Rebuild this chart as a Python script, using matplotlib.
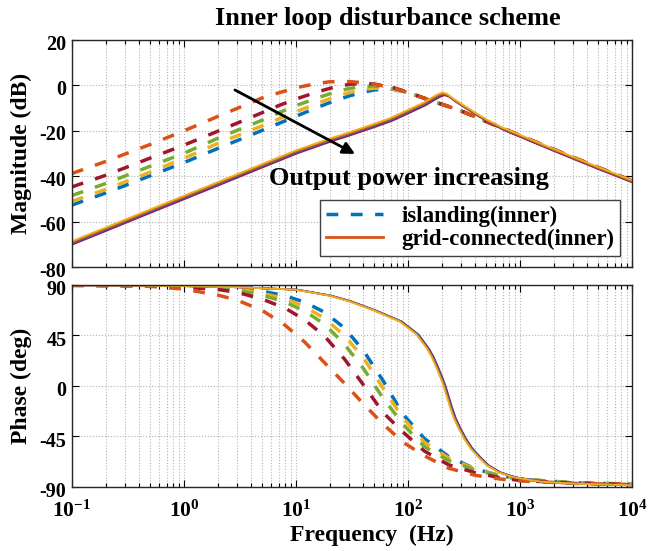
import matplotlib
matplotlib.use('Agg')
import matplotlib.pyplot as plt
import matplotlib.transforms as mtransforms
from matplotlib.ticker import LogLocator, NullFormatter

plt.rcParams['font.family'] = ['Liberation Serif', 'DejaVu Serif']
plt.rcParams['font.weight'] = 'bold'
plt.rcParams['axes.unicode_minus'] = False
plt.rcParams['mathtext.fontset'] = 'custom'
plt.rcParams['mathtext.rm'] = 'Liberation Serif:bold'
plt.rcParams['mathtext.it'] = 'Liberation Serif:bold'
plt.rcParams['mathtext.bf'] = 'Liberation Serif:bold'

# colours (MATLAB default order)
c_blue = '#0072BD'
c_orange = '#D95319'
c_yellow = '#EDB120'
c_purple = '#7E2F8E'
c_green = '#77AC30'
c_red = '#A2142F'

# ---- magnitude, islanding (dashed) ----
f_mag = [0.1, 0.2, 0.5, 1, 2, 5, 7, 10, 15, 20, 30, 40, 50, 70, 100,
         150, 200, 250, 300, 500, 1000, 2000, 5000, 10000]
mag_isl_blue = [-52.7, -47.4, -39.8, -34.0, -27.8, -19.8, -16.8, -13.6, -10.0, -7.6, -4.6, -3.0, -2.0, -1.5, -3.1,
                -6.2, -8.3, -9.9, -11.3, -15.9, -22.1, -28.2, -36.2, -42.0]
mag_isl_yellow = [-51.1, -45.8, -38.2, -32.1, -25.6, -17.8, -14.8, -11.6, -8.2, -5.9, -3.1, -1.8, -1.2, -1.3, -3.1,
                  -6.2, -8.3, -9.9, -11.3, -15.9, -22.1, -28.2, -36.2, -42.0]
mag_isl_green = [-48.5, -43.2, -35.6, -29.9, -23.3, -15.3, -12.1, -8.9, -5.8, -3.7, -1.3, -0.5, -0.3, -0.9, -3.0,
                 -6.2, -8.3, -9.9, -11.3, -15.9, -22.1, -28.2, -36.2, -42.0]
mag_isl_red = [-44.7, -39.6, -32.0, -26.3, -20.2, -12.0, -8.9, -6.0, -3.1, -1.3, 0.5, 0.9, 0.6, -0.6, -3.0,
               -6.2, -8.3, -9.9, -11.3, -15.9, -22.1, -28.2, -36.2, -42.0]
mag_isl_orange = [-38.8, -33.5, -26.0, -20.0, -13.7, -5.5, -3.3, -1.0, 0.7, 1.6, 1.7, 1.1, 0.5, -0.8, -3.2,
                  -6.2, -8.3, -9.9, -11.3, -15.9, -22.1, -28.2, -36.2, -42.0]

# ---- magnitude, grid-connected (solid) ----
f_mag_gc = [0.1, 0.2, 0.5, 1, 2, 5, 10, 20, 30, 50, 70, 100, 140, 170, 185, 205, 225, 260, 300,
            400, 500, 700, 1000, 2000, 5000, 10000]
mag_gc = [-69.0, -63.0, -55.0, -49.0, -43.0, -35.0, -29.0, -23.8, -21.0, -17.3, -14.7, -11.2, -7.8, -5.3, -4.3,
          -3.4, -4.0, -6.3, -8.3, -12.2, -15.1, -18.8, -22.0, -28.2, -36.2, -42.0]
# small spread between the five solid curves
gc_colors = [c_red, c_purple, c_blue, c_orange, c_yellow]
gc_mag_shift = [-0.9, -0.6, -0.4, -0.2, 0.3]
gc_freq_shift = [1.03, 1.02, 1.015, 1.0, 0.99]

# ---- phase, islanding (dashed) ----
f_ph = [0.1, 0.5, 1, 2, 3, 5, 8, 12, 18, 27, 40, 60, 90, 140, 230, 400, 650, 1000, 3000, 10000]
ph_isl_blue = [89.9, 89.7, 89.4, 88.6, 87.5, 84.5, 80.4, 74.6, 65.7, 51.8, 31.6, 4.6, -25.0, -46.8, -62.8,
               -74.0, -79.6, -83.0, -86.2, -87.5]
ph_isl_yellow = [89.8, 89.6, 89.2, 88.0, 86.7, 82.5, 77.7, 70.7, 60.2, 45.0, 25.1, -2.0, -28.4, -50.2, -64.2,
                 -74.2, -79.6, -83.0, -86.2, -87.5]
ph_isl_green = [89.8, 89.5, 88.8, 87.4, 85.4, 80.9, 74.8, 66.7, 55.0, 37.3, 15.6, -10.9, -34.0, -54.0, -66.5,
                -74.9, -79.8, -83.2, -86.3, -87.6]
ph_isl_red = [89.7, 89.3, 88.0, 86.0, 83.4, 77.4, 69.4, 58.8, 44.4, 24.2, 1.0, -23.7, -41.0, -58.0, -70.2,
              -77.4, -81.6, -84.2, -86.6, -87.7]
ph_isl_orange = [89.5, 88.8, 86.3, 81.0, 76.4, 67.3, 54.1, 39.0, 20.7, 2.5, -16.0, -34.0, -50.0, -62.2, -73.3,
                 -79.6, -82.8, -84.6, -86.8, -87.8]

# ---- phase, grid-connected (solid) ----
f_ph_gc = [0.1, 0.3, 1, 3, 10, 20, 30, 50, 85, 120, 150, 165, 180, 195, 210, 225, 240, 260, 285, 320, 365,
           430, 510, 650, 890, 1550, 3000, 10000]
ph_gc = [89.8, 89.6, 89.0, 88.0, 85.8, 80.5, 75.5, 67.3, 57.5, 46.0, 33.0, 25.5, 17.0, 8.5, 0.0, -9.8, -19.0,
         -29.0, -37.5, -47.0, -55.6, -63.5, -70.7, -77.0, -81.4, -85.3, -87.0, -88.5]

isl_mag = [mag_isl_blue, mag_isl_yellow, mag_isl_green, mag_isl_red, mag_isl_orange]
isl_ph = [ph_isl_blue, ph_isl_yellow, ph_isl_green, ph_isl_red, ph_isl_orange]
isl_colors = [c_blue, c_yellow, c_green, c_red, c_orange]

xticks = [0.1, 1, 10, 100, 1000, 10000]
xticklabels = [r'$10^{-1}$', r'$10^{0}$', r'$10^{1}$', r'$10^{2}$', r'$10^{3}$', r'$10^{4}$']
mag_ticks = [-80, -60, -40, -20, 0, 20]
ph_ticks = [-90, -45, 0, 45, 90]

dash = (0, (3.4, 3.6))
lw_dash = 2.5
lw_solid = 1.3

fig = plt.figure(figsize=(6.49, 5.51), dpi=100)
ax1 = fig.add_axes([0.1109, 0.5154, 0.8629, 0.412])
ax2 = fig.add_axes([0.1109, 0.1162, 0.8629, 0.3666])

# magnitude
for vals, col in zip(isl_mag, isl_colors):
    ax1.plot(f_mag, vals, color=col, lw=lw_dash, ls=dash)
for col, dm, fs in zip(gc_colors, gc_mag_shift, gc_freq_shift):
    ax1.plot([f * fs for f in f_mag_gc], [v + dm for v in mag_gc], color=col, lw=lw_solid)

# phase
for vals, col in zip(isl_ph, isl_colors):
    ax2.plot(f_ph, vals, color=col, lw=lw_dash, ls=dash)
for col, fs in zip(gc_colors, gc_freq_shift):
    ax2.plot([f * fs for f in f_ph_gc], ph_gc, color=col, lw=lw_solid)

for ax in (ax1, ax2):
    ax.set_xscale('log')
    ax.set_xlim(0.1, 1e4)
    ax.xaxis.set_major_locator(LogLocator(base=10, numticks=10))
    ax.xaxis.set_minor_locator(LogLocator(base=10, subs=range(2, 10), numticks=50))
    ax.xaxis.set_minor_formatter(NullFormatter())
    ax.grid(True, which='major', ls=':', color='#b5b5b5', lw=0.8)
    ax.grid(True, which='minor', axis='x', ls=':', color='#b5b5b5', lw=0.8)
    ax.tick_params(which='both', direction='in', top=True, right=True, width=0.8, labelsize=14.5)
    ax.tick_params(which='major', length=5)
    ax.tick_params(which='minor', length=3)
    for s in ax.spines.values():
        s.set_linewidth(1.0)
        s.set_color('#262626')
    ax.set_axisbelow(True)

ax1.set_ylim(-80, 20)
ax1.set_yticks(mag_ticks)
ax1.set_xticks(xticks)
ax1.tick_params(labelbottom=False, pad=4)
ax1.set_ylabel('Magnitude (dB)', fontsize=17, fontweight='bold')
ax1.yaxis.set_label_coords(-0.071, 0.5)

ax2.set_ylim(-90, 90)
ax2.set_yticks(ph_ticks)
ax2.set_xticks(xticks)
ax2.set_xticklabels(xticklabels, fontsize=15.5)
ax2.tick_params(axis='x', pad=10)
ax2.tick_params(axis='y', pad=4)
ax2.set_ylabel('Phase (deg)', fontsize=17, fontweight='bold')
ax2.yaxis.set_label_coords(-0.071, 0.5)

# y tick labels sit a little low in the original
for ax, px in ((ax1, 2), (ax2, 3)):
    shift = mtransforms.ScaledTranslation(0, -px / 100, fig.dpi_scale_trans)
    for lab in ax.get_yticklabels():
        lab.set_transform(lab.get_transform() + shift)

fig.text(388 / 649, 1 - 18 / 551, 'Inner loop disturbance scheme', ha='center', va='center',
         fontsize=19, fontweight='bold')
fig.text(372 / 649, 1 - 535 / 551, 'Frequency  (Hz)', ha='center', va='center',
         fontsize=17, fontweight='bold')

ax1.text(0.352, 0.388, 'Output power increasing', transform=ax1.transAxes, ha='left', va='center',
         fontsize=19, fontweight='bold')
ax1.annotate('', xy=(33.7, -30.2), xytext=(2.85, -2.0),
             arrowprops=dict(arrowstyle='-|>', color='k', lw=2, mutation_scale=18, shrinkA=0, shrinkB=0))

h1, = ax1.plot([], [], color=c_blue, lw=lw_dash, ls=dash)
h2, = ax1.plot([], [], color=c_orange, lw=2)
ax1.legend([h1, h2], ['islanding(inner)', 'grid-connected(inner)'], loc='lower right',
           bbox_to_anchor=(0.979, 0.048), fontsize=16.5, frameon=True, fancybox=False,
           edgecolor='#404040', framealpha=1, borderpad=0.25, labelspacing=0.1,
           handlelength=2.5, handletextpad=0.8, borderaxespad=0)

fig.savefig('out.png', dpi=100)
